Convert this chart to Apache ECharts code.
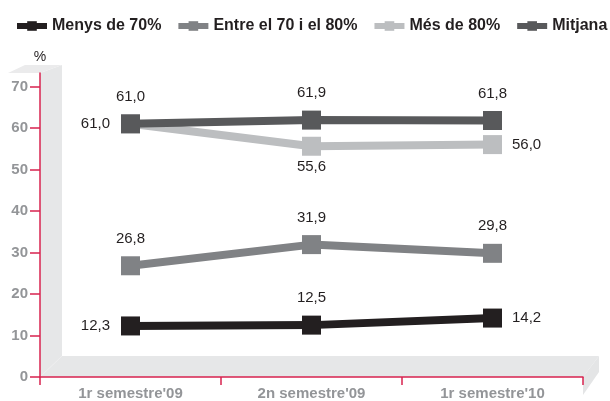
<!DOCTYPE html>
<html>
<head>
<meta charset="utf-8">
<script src="https://cdn.jsdelivr.net/npm/echarts@6/dist/echarts.min.js"></script>
<style>
html,body{margin:0;padding:0;background:#fff;}
#chart{width:610px;height:401px;}
</style>
</head>
<body>
<div id="chart"></div>
<script>
// ---- data ----
var categories = ["1r semestre'09", "2n semestre'09", "1r semestre'10"];
var seriesNames = ['Menys de 70%', 'Entre el 70 i el 80%', 'Més de 80%', 'Mitjana'];
var menys70 = [12.3, 12.5, 14.2];
var entre7080 = [26.8, 31.9, 29.8];
var mes80 = [61.0, 55.6, 56.0];
var mitjana = [61.0, 61.9, 61.8];
var yTicks = [0, 10, 20, 30, 40, 50, 60, 70];

// ---- layout / style ----
var G = {left: 40, top: 73, right: 27, bottom: 24};
var W = 610, H = 401;
var colors = ['#231f20', '#808285', '#bcbec0', '#58595b'];
var labelPositions = [
  ['left', 'top', 'right'],
  ['top', 'top', 'top'],
  ['left', 'bottom', 'right'],
  ['top', 'top', 'top']
];
var distances = {top: 10, bottom: 4, left: 11, right: 10};
var values = [menys70, entre7080, mes80, mitjana];

function fmt(v) { return v.toFixed(1).replace('.', ','); }

var series = values.map(function (arr, si) {
  return {
    name: seriesNames[si],
    type: 'line',
    symbol: 'rect',
    symbolSize: 19,
    color: colors[si],
    lineStyle: {width: 8, color: colors[si]},
    itemStyle: {color: colors[si]},
    z: 3 + si,
    data: arr.map(function (v, i) {
      var pos = labelPositions[si][i];
      return {
        value: v,
        label: {
          show: true,
          position: pos,
          distance: distances[pos],
          formatter: function (p) { return fmt(p.value); },
          color: '#231f20',
          fontSize: 15,
          fontFamily: '"Liberation Sans", Arial, sans-serif'
        }
      };
    })
  };
});

// decorative 3D wall & floor derived from the grid rectangle
var x0 = G.left, y0 = H - G.bottom, x1 = W - G.right, yT = G.top;
var dx = 22, dy = 21;
var wallColor = '#e6e7e8';
var graphics = [
  {type: 'polygon', z: 0, shape: {points: [[x0, yT], [x0 + dx, yT - 8], [x0 + dx, y0 - dy], [x0, y0]]}, style: {fill: wallColor}},
  {type: 'polygon', z: 0, shape: {points: [[x0 - 32, yT], [x0, yT], [x0 + dx, yT - 8], [x0 - 15, yT - 8]]}, style: {fill: '#ebebec'}},
  {type: 'polygon', z: 0, shape: {points: [[x0, y0], [x0 + dx, y0 - dy], [x1 + 16, y0 - dy], [x1, y0]]}, style: {fill: wallColor}},
  {type: 'polygon', z: 0, shape: {points: [[x1, y0], [x1 + 16, y0 - dy], [x1 + 16, y0 - 5], [x1, y0 + 18]]}, style: {fill: '#e4e5e6'}},
  {type: 'line', z: 0, shape: {x1: x0, y1: y0, x2: x0 + dx, y2: y0 - dy}, style: {stroke: '#eeeeef', lineWidth: 1}}
];

var axisRed = '#d8234f';
var option = {
  backgroundColor: '#ffffff',
  animation: false,
  textStyle: {fontFamily: '"Liberation Sans", Arial, sans-serif'},
  legend: {
    left: 14,
    top: 18,
    padding: 0,
    width: 600,
    itemWidth: 30,
    itemHeight: 12,
    itemGap: 14,
    data: seriesNames,
    lineStyle: {width: 6},
    textStyle: {fontSize: 16, fontWeight: 'bold', color: '#231f20', fontFamily: '"Liberation Sans", Arial, sans-serif'}
  },
  grid: {left: G.left, top: G.top, right: G.right, bottom: G.bottom, containLabel: false},
  graphic: graphics,
  xAxis: {
    type: 'category',
    data: categories,
    boundaryGap: true,
    axisLine: {lineStyle: {color: axisRed, width: 1.5}},
    axisTick: {show: true, length: 8, lineStyle: {color: axisRed, width: 1.5}},
    axisLabel: {color: '#939598', fontSize: 15, fontWeight: 'bold', margin: 9},
    splitLine: {show: false}
  },
  yAxis: {
    type: 'value',
    min: 0,
    max: 73.25,
    name: '%',
    nameLocation: 'end',
    nameGap: 9,
    nameTextStyle: {color: '#231f20', fontSize: 14, align: 'center'},
    axisLine: {show: true, lineStyle: {color: axisRed, width: 1.5}},
    axisTick: {show: true, length: 10, customValues: yTicks, lineStyle: {color: axisRed, width: 1.5}},
    axisLabel: {color: '#939598', fontSize: 15, fontWeight: 'bold', margin: 12, customValues: yTicks},
    splitLine: {show: false}
  },
  series: series
};

var chart = echarts.init(document.getElementById('chart'), null, {renderer: 'canvas'});
chart.setOption(option);
</script>
</body>
</html>
